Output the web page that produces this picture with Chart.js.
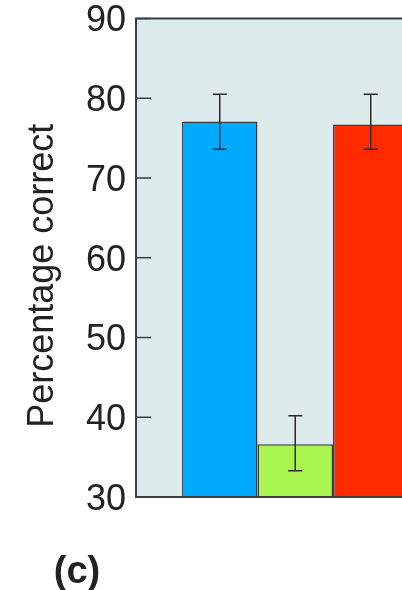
<!DOCTYPE html>
<html lang="en">
<head>
    <meta charset="UTF-8">
    <title>Percentage correct</title>
    <script src="https://cdn.jsdelivr.net/npm/chart.js"></script>
    <style>
        body {
          margin: 0;
          background: #ffffff;
          overflow: hidden;
        }
        .chartBox {
          width: 470px;
          height: 590px;
        }
    </style>
</head>
<body>
    <div class="chartBox">
        <canvas id="scoreChart" width="470" height="590"></canvas>
    </div>
    <script>
        // Scores for the three conditions (one group of bars)
        const groups = [''];
        const conditionNames = ['Condition 1', 'Condition 2', 'Condition 3'];
        const meanScores = [77.1, 36.6, 76.7];
        const errorLow = [73.6, 33.3, 73.6];
        const errorHigh = [80.5, 40.2, 80.5];
        const yMin = 30;
        const yMax = 90;
        const yStep = 10;

        const barColors = ['#00aaff', '#a8f550', '#ff2a00'];
        const lineColor = '#3a3f42';
        const fontFamily = "'Liberation Sans', Arial, sans-serif";

        // Light panel behind the bars
        const panelPlugin = {
            id: 'panel',
            beforeDatasetsDraw(chart) {
                const {ctx, chartArea: a} = chart;
                ctx.save();
                ctx.fillStyle = '#deebed';
                ctx.fillRect(a.left, a.top, a.right - a.left, a.bottom - a.top);
                ctx.restore();
            }
        };

        // Error bars, inward ticks, frame and the extra text
        const extrasPlugin = {
            id: 'extras',
            afterDatasetsDraw(chart) {
                const {ctx, chartArea: a, scales: {y}} = chart;
                ctx.save();

                // error bars
                ctx.strokeStyle = '#2a2a2a';
                ctx.lineWidth = 1.5;
                chart.data.datasets.forEach((ds, i) => {
                    const bar = chart.getDatasetMeta(i).data[0];
                    const yHi = y.getPixelForValue(errorHigh[i]);
                    const yLo = y.getPixelForValue(errorLow[i]);
                    ctx.beginPath();
                    ctx.moveTo(bar.x, yHi);
                    ctx.lineTo(bar.x, yLo);
                    ctx.moveTo(bar.x - 7, yHi);
                    ctx.lineTo(bar.x + 7, yHi);
                    ctx.moveTo(bar.x - 7, yLo);
                    ctx.lineTo(bar.x + 7, yLo);
                    ctx.stroke();
                });

                // frame: left, top and bottom edges
                ctx.strokeStyle = lineColor;
                ctx.lineWidth = 2;
                ctx.beginPath();
                ctx.moveTo(a.right, a.top);
                ctx.lineTo(a.left, a.top);
                ctx.lineTo(a.left, a.bottom);
                ctx.lineTo(a.right, a.bottom);
                ctx.stroke();

                // tick marks pointing into the panel
                ctx.lineWidth = 1.5;
                y.ticks.forEach(t => {
                    const py = y.getPixelForValue(t.value);
                    ctx.beginPath();
                    ctx.moveTo(a.left, py);
                    ctx.lineTo(a.left + 15, py);
                    ctx.stroke();
                });

                // axis title
                ctx.fillStyle = '#222';
                ctx.font = '36px ' + fontFamily;
                ctx.textAlign = 'center';
                ctx.textBaseline = 'middle';
                ctx.translate(43, (a.top + a.bottom) / 2 + 18);
                ctx.rotate(-Math.PI / 2);
                ctx.fillText('Percentage correct', 0, 0);
                ctx.restore();

                // panel letter
                ctx.save();
                ctx.fillStyle = '#222';
                ctx.font = 'bold 38px ' + fontFamily;
                ctx.textAlign = 'center';
                ctx.textBaseline = 'middle';
                ctx.fillText('(c)', 77, 573);
                ctx.restore();
            }
        };

        const ctx = document.getElementById('scoreChart').getContext('2d');
        new Chart(ctx, {
            type: 'bar',
            data: {
                labels: groups,
                datasets: conditionNames.map((name, i) => ({
                    label: name,
                    data: [meanScores[i]],
                    backgroundColor: barColors[i],
                    borderColor: lineColor,
                    borderWidth: 1.5,
                    borderSkipped: false,
                    barPercentage: 1,
                    categoryPercentage: 0.711
                }))
            },
            options: {
                responsive: false,
                animation: false,
                layout: {
                    padding: {top: 18.5, right: 15.5, bottom: 93, left: 0}
                },
                plugins: {
                    legend: {display: false},
                    tooltip: {enabled: false}
                },
                scales: {
                    x: {
                        display: false
                    },
                    y: {
                        min: yMin,
                        max: yMax,
                        afterFit(scale) {
                            scale.width = 136;
                            scale.paddingTop = 0;
                            scale.paddingBottom = 0;
                        },
                        grid: {display: false, drawTicks: false},
                        border: {display: false},
                        ticks: {
                            stepSize: yStep,
                            padding: 10,
                            labelOffset: 3,
                            color: '#222',
                            font: {family: fontFamily, size: 36}
                        }
                    }
                }
            },
            plugins: [panelPlugin, extrasPlugin]
        });
    </script>
</body>
</html>
